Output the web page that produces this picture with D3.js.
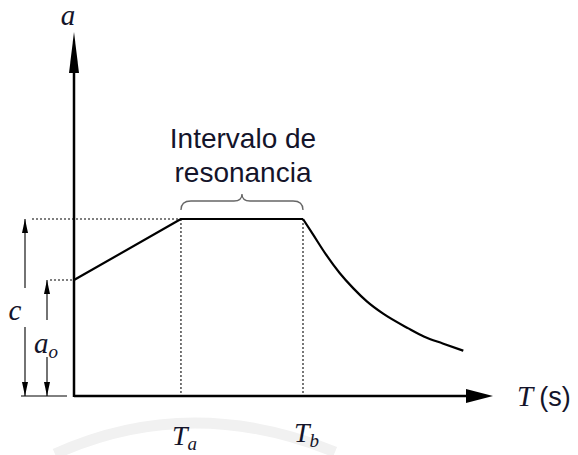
<!DOCTYPE html>
<html>
<head>
<meta charset="utf-8">
<script src="https://cdn.jsdelivr.net/npm/d3@7"></script>
<style>
  body { margin: 0; background: #fff; }
  .serif { font-family: "Liberation Serif", "DejaVu Serif", serif; font-style: italic; fill: #14142a; }
  .sans { font-family: "Liberation Sans", Arial, sans-serif; fill: #14142a; }
</style>
</head>
<body>
<div id="chart"></div>
<script>
// periods relative to Tb, accelerations relative to c
var Ta = 0.467, Tb = 1.0, a0 = 0.655, c = 1.0;
var rampT = [0, Ta, Tb];
var rampA = [a0, c, c];
// descending branch
var decayT = [1.0, 1.045, 1.10, 1.16, 1.22, 1.28, 1.35, 1.46, 1.53, 1.61, 1.70];
var decayA = [1.0, 0.91, 0.80, 0.695, 0.608, 0.533, 0.465, 0.382, 0.335, 0.297, 0.256];
var tickLabels = [{ t: Ta, main: "T", sub: "a" }, { t: Tb, main: "T", sub: "b" }];

var width = 578, height = 455;
var svg = d3.select("#chart").append("svg")
    .attr("width", width)
    .attr("height", height);

var x = d3.scaleLinear().domain([0, 1]).range([74, 303]);
var y = d3.scaleLinear().domain([0, 1]).range([396, 219]);
var xEnd = 493, yTop = 32;

// faint watermark arc
svg.append("path")
    .attr("d", "M55,454 Q190,393 335,452")
    .attr("fill", "none")
    .attr("stroke", "#f1f1f1")
    .attr("stroke-width", 11);

// dotted guides
var dot = svg.append("g")
    .attr("stroke", "#555")
    .attr("stroke-width", 1.6)
    .attr("stroke-dasharray", "2,2")
    .attr("fill", "none");
dot.append("line").attr("x1", 32).attr("x2", x(Ta)).attr("y1", y(c)).attr("y2", y(c));
dot.append("line").attr("x1", 50).attr("x2", x(0)).attr("y1", y(a0)).attr("y2", y(a0));
dot.selectAll(".v").data([Ta, Tb]).enter().append("line")
    .attr("x1", d => x(d)).attr("x2", d => x(d))
    .attr("y1", y(c)).attr("y2", y(0));

// axes
svg.append("line")
    .attr("x1", x(0)).attr("x2", xEnd - 20)
    .attr("y1", y(0)).attr("y2", y(0))
    .attr("stroke", "#000").attr("stroke-width", 2.5);
svg.append("line")
    .attr("x1", x(0)).attr("x2", x(0))
    .attr("y1", y(0) + 1).attr("y2", yTop + 30)
    .attr("stroke", "#000").attr("stroke-width", 2.5);
// arrowheads
svg.append("path")
    .attr("d", `M${xEnd},${y(0)} L${xEnd - 27},${y(0) - 7} L${xEnd - 27},${y(0) + 7} Z`)
    .attr("fill", "#000");
svg.append("path")
    .attr("d", `M${x(0)},${yTop} L${x(0) - 5},${yTop + 41} L${x(0) + 5},${yTop + 41} Z`)
    .attr("fill", "#000");

// spectrum
var line = d3.line().x(d => x(d[0])).y(d => y(d[1]));
svg.append("path")
    .datum(d3.zip(rampT, rampA))
    .attr("d", line)
    .attr("fill", "none").attr("stroke", "#000").attr("stroke-width", 2.2)
    .attr("stroke-linejoin", "round");
svg.append("path")
    .datum(d3.zip(decayT, decayA))
    .attr("d", line.curve(d3.curveMonotoneX))
    .attr("fill", "none").attr("stroke", "#000").attr("stroke-width", 2.2);

// dimension arrows for c and a0
svg.append("line")
    .attr("x1", 21).attr("x2", 67).attr("y1", y(0)).attr("y2", y(0))
    .attr("stroke", "#000").attr("stroke-width", 1);

function dimArrow(px, top, gapTop, gapBot) {
  var g = svg.append("g").attr("stroke", "#000").attr("stroke-width", 1.1);
  g.append("line").attr("x1", px).attr("x2", px).attr("y1", top).attr("y2", gapTop);
  g.append("line").attr("x1", px).attr("x2", px).attr("y1", gapBot).attr("y2", y(0));
  svg.append("path")
      .attr("d", `M${px},${top} L${px - 3},${top + 14} L${px + 3},${top + 14} Z`)
      .attr("fill", "#000");
  svg.append("path")
      .attr("d", `M${px},${y(0)} L${px - 3},${y(0) - 14} L${px + 3},${y(0) - 14} Z`)
      .attr("fill", "#000");
}
dimArrow(25, y(c), 288, 327);
dimArrow(47, y(a0), 320, 357);

// labels
svg.append("text").attr("class", "serif")
    .attr("x", 68).attr("y", 25).attr("text-anchor", "middle")
    .style("font-size", "29px").text("a");
svg.append("text").attr("class", "serif")
    .attr("x", 15).attr("y", 320).attr("text-anchor", "middle")
    .style("font-size", "29px").text("c");
var ao = svg.append("text").attr("class", "serif").attr("x", 34).attr("y", 353)
    .style("font-size", "29px");
ao.append("tspan").text("a");
ao.append("tspan").attr("dy", 5).style("font-size", "19px").text("o");

var tl = svg.append("text").attr("x", 517).attr("y", 406).style("font-size", "29px");
tl.append("tspan").attr("class", "serif").text("T");
tl.append("tspan").attr("class", "sans").attr("dx", 6).style("font-size", "27px").style("font-style", "normal").text("(s)");

svg.selectAll(".tick-label").data(tickLabels).enter().append("text")
    .attr("class", "serif tick-label")
    .attr("x", d => x(d.t) - 9)
    .attr("y", (d, i) => i === 0 ? 445 : 442)
    .style("font-size", "28px")
    .each(function (d) {
      var t = d3.select(this);
      t.append("tspan").text(d.main);
      t.append("tspan").attr("dy", 5).style("font-size", "19px").text(d.sub);
    });

// resonance interval brace and caption
var bx0 = x(Ta), bx1 = x(Tb), bm = (bx0 + bx1) / 2, by = 210, bh = 9;
svg.append("path")
    .attr("d", `M${bx0},${by} Q${bx0},${by - bh} ${bx0 + 10},${by - bh}
                L${bm - 8},${by - bh} Q${bm},${by - bh} ${bm},${by - bh - 7}
                Q${bm},${by - bh} ${bm + 8},${by - bh}
                L${bx1 - 10},${by - bh} Q${bx1},${by - bh} ${bx1},${by}`)
    .attr("fill", "none").attr("stroke", "#666").attr("stroke-width", 1.3);

var cap = svg.append("text").attr("class", "sans")
    .attr("text-anchor", "middle").style("font-size", "28px");
cap.append("tspan").attr("x", 243).attr("y", 148).text("Intervalo de");
cap.append("tspan").attr("x", 243).attr("y", 182).text("resonancia");
</script>
</body>
</html>
